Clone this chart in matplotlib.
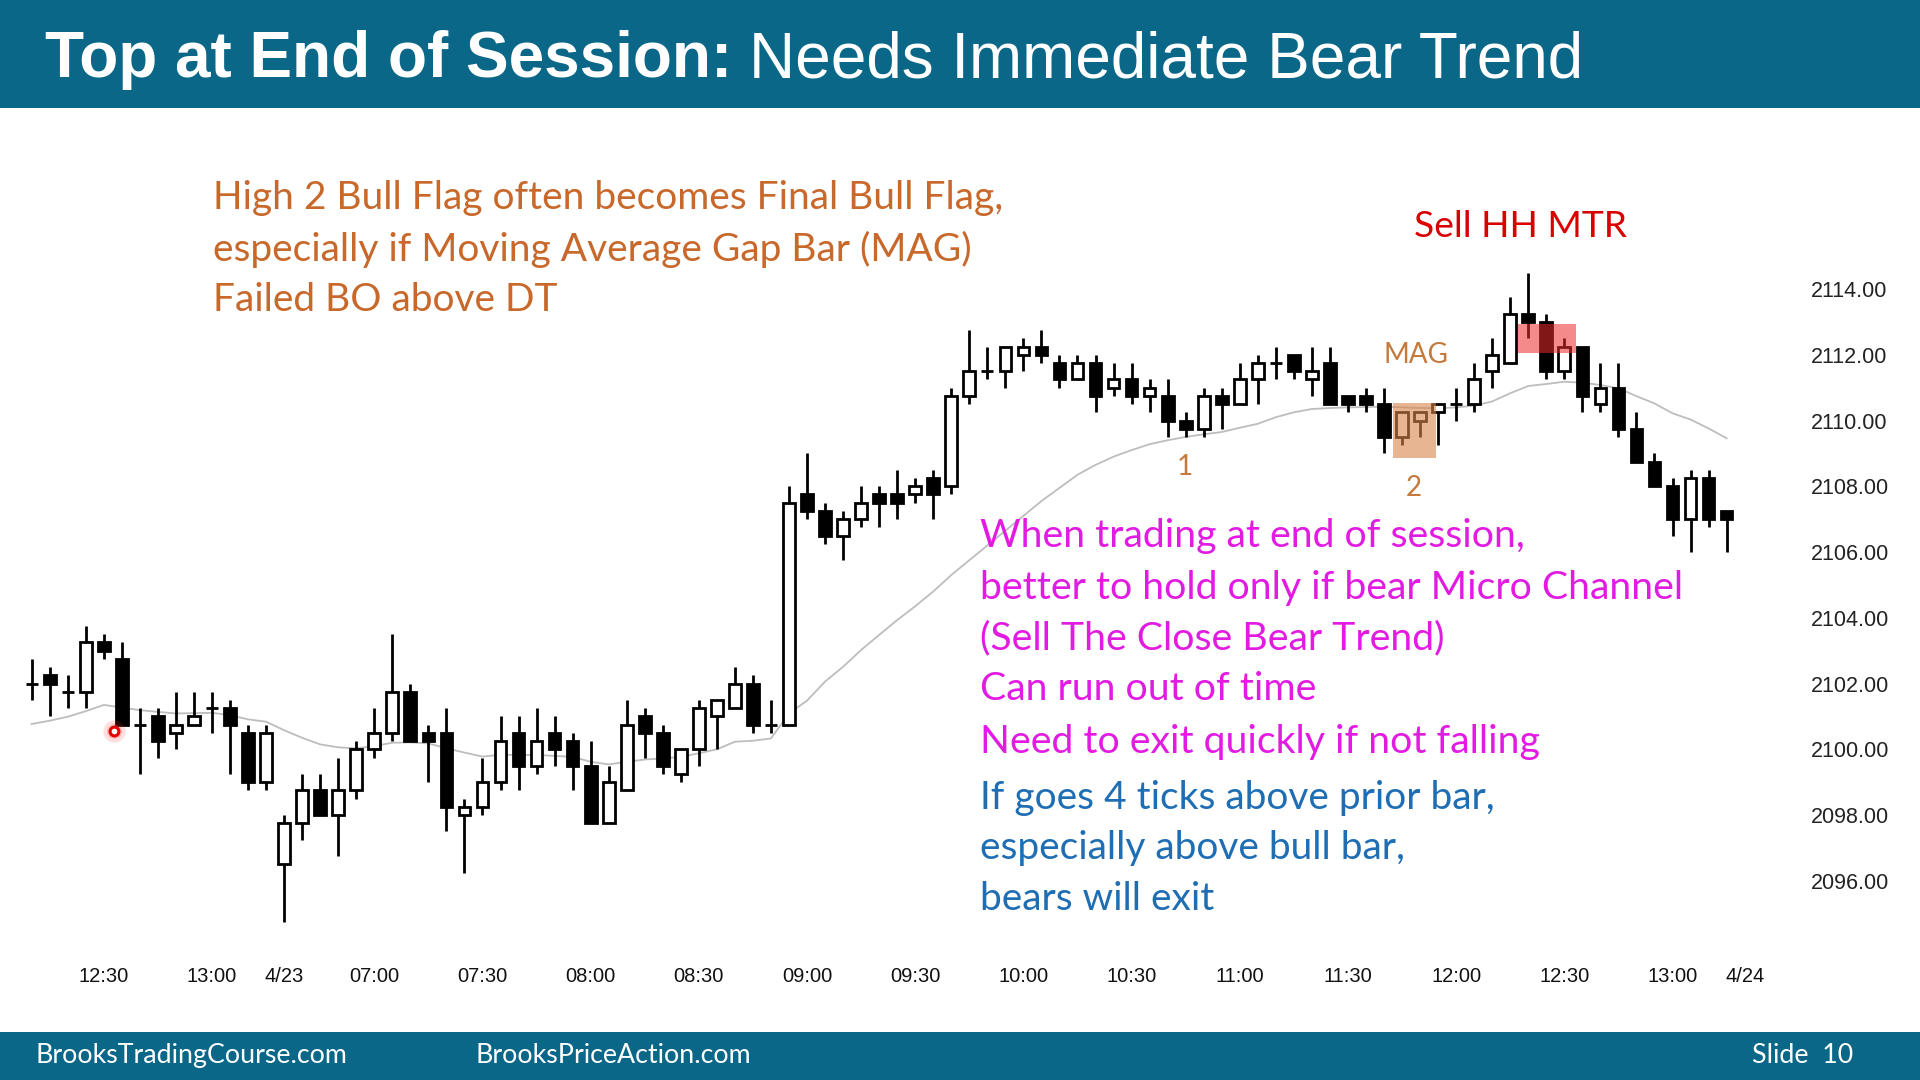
import matplotlib
matplotlib.use("Agg")
import matplotlib.pyplot as plt
from matplotlib.patches import Rectangle
from matplotlib import font_manager
import numpy as np

# ---------------- data ----------------
opens = [2102.00, 2102.25, 2101.75, 2101.75, 2103.25, 2102.75, 2100.75, 2101.00, 2100.50, 2100.75,
         2101.25, 2101.25, 2100.50, 2099.00, 2096.50, 2097.75, 2098.75, 2098.00, 2098.75, 2100.00,
         2100.50, 2101.75, 2100.50, 2100.50, 2098.00, 2098.25, 2099.00, 2100.50, 2099.50, 2100.50,
         2100.25, 2099.50, 2097.75, 2098.75, 2101.00, 2100.50, 2099.25, 2100.00, 2101.00, 2101.25,
         2102.00, 2100.75, 2100.75, 2107.75, 2107.25, 2106.50, 2107.00, 2107.75, 2107.75, 2107.75,
         2108.25, 2108.00, 2110.75, 2111.50, 2111.50, 2112.00, 2112.25, 2111.75, 2111.25, 2111.75,
         2111.00, 2111.25, 2110.75, 2110.75, 2110.00, 2109.75, 2110.75, 2110.50, 2111.25, 2111.75,
         2112.00, 2111.25, 2111.75, 2110.75, 2110.75, 2110.50, 2109.50, 2110.00, 2110.25, 2110.50,
         2110.50, 2111.50, 2111.75, 2113.25, 2113.00, 2111.50, 2112.25, 2110.50, 2111.00, 2109.75,
         2108.75, 2108.00, 2107.00, 2108.25, 2107.25]
highs = [2102.75, 2102.50, 2102.25, 2103.75, 2103.50, 2103.25, 2101.25, 2101.25, 2101.75, 2101.75,
         2101.75, 2101.50, 2100.75, 2100.75, 2098.00, 2099.25, 2099.25, 2099.75, 2100.25, 2101.25,
         2103.50, 2102.00, 2100.75, 2101.25, 2098.50, 2099.75, 2101.00, 2101.00, 2101.25, 2101.00,
         2100.50, 2100.25, 2099.50, 2101.50, 2101.25, 2100.75, 2100.00, 2101.50, 2101.50, 2102.50,
         2102.25, 2101.50, 2108.00, 2109.00, 2107.50, 2107.25, 2108.00, 2108.00, 2108.50, 2108.25,
         2108.50, 2111.00, 2112.75, 2112.25, 2112.25, 2112.50, 2112.75, 2112.00, 2112.00, 2112.00,
         2111.75, 2111.75, 2111.25, 2111.25, 2110.25, 2111.00, 2111.00, 2111.75, 2112.00, 2112.25,
         2112.00, 2112.25, 2112.25, 2110.75, 2111.00, 2111.00, 2110.25, 2110.25, 2110.50, 2111.00,
         2111.75, 2112.50, 2113.75, 2114.50, 2113.25, 2112.50, 2112.25, 2111.75, 2111.75, 2110.25,
         2109.00, 2108.25, 2108.50, 2108.50, 2107.25]
lows = [2101.50, 2101.00, 2101.25, 2101.25, 2102.75, 2100.75, 2099.25, 2099.75, 2100.00, 2100.75,
        2100.50, 2099.25, 2098.75, 2098.75, 2094.75, 2097.25, 2098.00, 2096.75, 2098.50, 2099.75,
        2100.25, 2100.25, 2099.00, 2097.50, 2096.25, 2098.00, 2098.75, 2098.75, 2099.25, 2099.50,
        2098.75, 2097.75, 2097.75, 2098.75, 2099.75, 2099.25, 2099.00, 2099.50, 2100.00, 2101.25,
        2100.50, 2100.50, 2100.75, 2107.00, 2106.25, 2105.75, 2106.75, 2106.75, 2107.00, 2107.50,
        2107.00, 2107.75, 2110.50, 2111.25, 2111.00, 2111.50, 2111.75, 2111.00, 2111.25, 2110.25,
        2110.75, 2110.50, 2110.25, 2109.50, 2109.50, 2109.50, 2109.75, 2110.50, 2110.50, 2111.25,
        2111.25, 2110.75, 2110.50, 2110.25, 2110.25, 2109.00, 2109.25, 2109.50, 2109.25, 2110.00,
        2110.25, 2111.00, 2111.75, 2112.50, 2111.25, 2111.25, 2110.25, 2110.25, 2109.50, 2108.75,
        2108.00, 2106.50, 2106.00, 2106.75, 2106.00]
closes = [2102.00, 2102.00, 2101.75, 2103.25, 2103.00, 2100.75, 2100.75, 2100.25, 2100.75, 2101.00,
          2101.25, 2100.75, 2099.00, 2100.50, 2097.75, 2098.75, 2098.00, 2098.75, 2100.00, 2100.50,
          2101.75, 2100.25, 2100.25, 2098.25, 2098.25, 2099.00, 2100.25, 2099.50, 2100.25, 2100.00,
          2099.50, 2097.75, 2099.00, 2100.75, 2100.50, 2099.50, 2100.00, 2101.25, 2101.50, 2102.00,
          2100.75, 2100.75, 2107.50, 2107.25, 2106.50, 2107.00, 2107.50, 2107.50, 2107.50, 2108.00,
          2107.75, 2110.75, 2111.50, 2111.50, 2112.25, 2112.25, 2112.00, 2111.25, 2111.75, 2110.75,
          2111.25, 2110.75, 2111.00, 2110.00, 2109.75, 2110.75, 2110.50, 2111.25, 2111.75, 2111.75,
          2111.50, 2111.50, 2110.50, 2110.50, 2110.50, 2109.50, 2110.25, 2110.25, 2110.50, 2110.50,
          2111.25, 2112.00, 2113.25, 2113.00, 2111.50, 2112.25, 2110.75, 2111.00, 2109.75, 2108.75,
          2108.00, 2107.00, 2108.25, 2107.00, 2107.00]
moving_avg = [2100.77, 2100.87, 2100.99, 2101.16, 2101.35, 2101.27, 2101.19, 2101.14, 2101.09, 2101.10,
              2101.11, 2101.04, 2100.91, 2100.84, 2100.58, 2100.35, 2100.15, 2100.06, 2100.03, 2100.10,
              2100.20, 2100.21, 2100.18, 2100.03, 2099.90, 2099.78, 2099.83, 2099.83, 2099.83, 2099.80,
              2099.77, 2099.62, 2099.54, 2099.62, 2099.69, 2099.72, 2099.77, 2099.88, 2100.00, 2100.23,
              2100.26, 2100.33, 2101.09, 2101.48, 2102.06, 2102.51, 2103.02, 2103.48, 2103.93, 2104.35,
              2104.80, 2105.30, 2105.75, 2106.20, 2106.65, 2107.10, 2107.55, 2107.95, 2108.35, 2108.65,
              2108.90, 2109.10, 2109.28, 2109.40, 2109.50, 2109.58, 2109.65, 2109.78, 2109.90, 2110.10,
              2110.25, 2110.35, 2110.38, 2110.40, 2110.41, 2110.42, 2110.40, 2110.38, 2110.37, 2110.40,
              2110.45, 2110.58, 2110.83, 2111.05, 2111.11, 2111.18, 2111.15, 2111.08, 2110.98, 2110.74,
              2110.52, 2110.22, 2110.03, 2109.76, 2109.46]
tick_bars = [5, 11, 15, 20, 26, 32, 38, 44, 50, 56, 62, 68, 74, 80, 86, 92, 96]
tick_labels = ["12:30", "13:00", "4/23", "07:00", "07:30", "08:00", "08:30", "09:00", "09:30",
               "10:00", "10:30", "11:00", "11:30", "12:00", "12:30", "13:00", "4/24"]
price_ticks = [2096, 2098, 2100, 2102, 2104, 2106, 2108, 2110, 2112, 2114]

# ---------------- styling ----------------
W, H = 1920, 1080
TEAL = "#0B6787"
ORANGE = "#C8682A"
MAGENTA = "#E21BE2"
BLUE = "#1F6EB4"
RED = "#D90000"
LABEL_BROWN = "#C47A3C"

avail = {f.name for f in font_manager.fontManager.ttflist}
TXT_FONT = "Lato" if "Lato" in avail else "DejaVu Sans"
AX_FONT = "Liberation Sans" if "Liberation Sans" in avail else "DejaVu Sans"

fig = plt.figure(figsize=(19.2, 10.8), dpi=100)
fig.patch.set_facecolor("white")


def fx(px):
    return px / W


def fy(py):
    return 1 - py / H


# header and footer bands
fig.patches.append(Rectangle((0, fy(108)), 1, 108 / H, transform=fig.transFigure,
                             facecolor=TEAL, edgecolor="none", zorder=0))
fig.patches.append(Rectangle((0, 0), 1, (H - 1032) / H, transform=fig.transFigure,
                             facecolor=TEAL, edgecolor="none", zorder=0))

# ---------------- axes ----------------
ax = fig.add_axes([0, fy(940), 1800 / W, (940 - 120) / H])
ax.patch.set_visible(False)
ax.set_xlim(-0.758, 99.07)
ax.set_ylim(2094.20, 2119.14)
for s in ax.spines.values():
    s.set_visible(False)

x = np.arange(1, len(opens) + 1)
o = np.array(opens)
h = np.array(highs)
l = np.array(lows)
c = np.array(closes)

ax.plot(x, moving_avg, color="#BDBDBD", lw=1.3, zorder=1)
ax.vlines(x, l, h, color="black", linewidth=2.0, zorder=2)
faces = ["white" if cc > oo else "black" for oo, cc in zip(o, c)]
ax.bar(x, np.abs(c - o), bottom=np.minimum(o, c), width=0.65, color=faces,
       edgecolor="black", linewidth=2.0, zorder=3)

# highlight boxes
ax.add_patch(Rectangle((76.49, 2108.85), 78.89 - 76.49, 2110.54 - 2108.85,
                       facecolor="#D9854A", alpha=0.6, edgecolor="none", zorder=4))
ax.add_patch(Rectangle((83.43, 2112.06), 86.65 - 83.43, 2112.94 - 2112.06,
                       facecolor="#EE2A2A", alpha=0.55, edgecolor="none", zorder=4))

# red cursor marker
ax.scatter([5.57], [2100.57], s=260, color="#FF3030", alpha=0.15, linewidths=0, zorder=5)
ax.scatter([5.57], [2100.57], s=120, color="#FF3030", alpha=0.2, linewidths=0, zorder=5)
ax.scatter([5.57], [2100.57], s=40, facecolor="white", edgecolor="#E00000", linewidths=2.2, zorder=6)

ax.set_xticks(tick_bars)
ax.set_xticklabels(tick_labels, fontsize=14.5, family=AX_FONT, color="#111111")
ax.set_yticks(price_ticks)
ax.set_yticklabels([f"{p:.2f}" for p in price_ticks], fontsize=15.5, family=AX_FONT, color="#222222")
ax.yaxis.tick_right()
ax.tick_params(axis="x", length=0, pad=19.5)
ax.tick_params(axis="y", length=0, pad=8)

# ---------------- texts ----------------
renderer = fig.canvas.get_renderer()


def put(px, py, s, color, size, weight="normal", family=None):
    return fig.text(fx(px), fy(py), s, color=color, fontsize=size, fontweight=weight,
                    family=family or TXT_FONT, ha="left", va="baseline", zorder=10)


def fit_group(texts, ref, target):
    w = ref.get_window_extent(renderer).width
    k = target / w
    for t in texts:
        t.set_fontsize(t.get_fontsize() * k)


t1 = put(45, 77, "Top at End of Session:", "white", 40, "bold", AX_FONT)
fit_group([t1], t1, 686)
t2 = put(749, 77, "Needs Immediate Bear Trend", "white", 40, "normal", AX_FONT)
fit_group([t2], t2, 834)

orange_lines = ["High 2 Bull Flag often becomes Final Bull Flag,",
                "especially if Moving Average Gap Bar (MAG)",
                "Failed BO above DT"]
ot = [put(213, yb, s, ORANGE, 24) for s, yb in zip(orange_lines, [209.5, 260.5, 311.5])]
fit_group(ot, ot[0], 789)

magenta_lines = ["When trading at end of session,",
                 "better to hold only if bear Micro Channel",
                 "(Sell The Close Bear Trend)",
                 "Can run out of time",
                 "Need to exit quickly if not falling"]
mt = [put(980, yb, s, MAGENTA, 24) for s, yb in zip(magenta_lines, [547.5, 599.5, 649.5, 700.5, 752.5])]
fit_group(mt, mt[1], 705)

blue_lines = ["If goes 4 ticks above prior bar,",
              "especially above bull bar,",
              "bears will exit"]
bt = [put(980, yb, s, BLUE, 24) for s, yb in zip(blue_lines, [808.6, 858.9, 910.3])]
fit_group(bt, bt[0], 514)

st = put(1414, 237, "Sell HH MTR", RED, 24)
fit_group([st], st, 213)

mag = put(1384, 363, "MAG", LABEL_BROWN, 20)
fit_group([mag], mag, 65)
n1 = fig.text(fx(1185), fy(475), "1", color=LABEL_BROWN, fontsize=mag.get_fontsize(),
              family=TXT_FONT, ha="center", va="baseline")
n2 = fig.text(fx(1414), fy(496), "2", color=LABEL_BROWN, fontsize=mag.get_fontsize(),
              family=TXT_FONT, ha="center", va="baseline")

f1 = put(35.5, 1063, "BrooksTradingCourse.com", "white", 20)
f2 = put(475, 1063, "BrooksPriceAction.com", "white", 20)
f3 = put(1752, 1063, "Slide  10", "white", 20)
fit_group([f1, f2, f3], f1, 311)

fig.savefig("out.png", dpi=100, facecolor="white")
